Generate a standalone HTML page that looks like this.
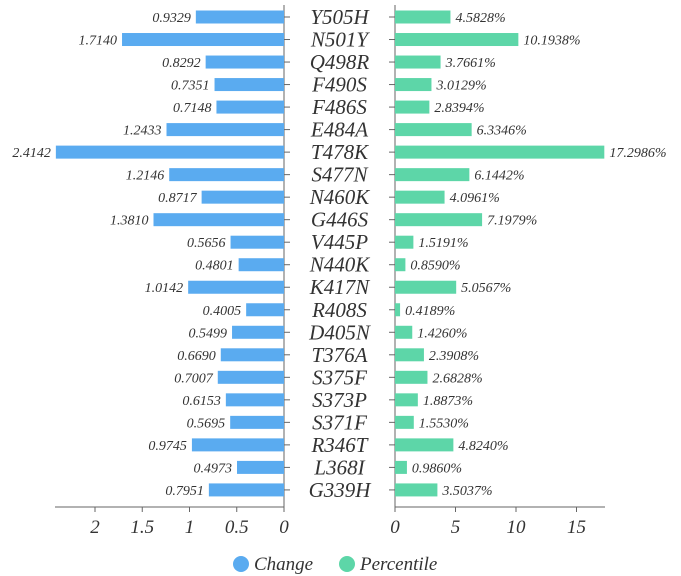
<!DOCTYPE html>
<html><head><meta charset="utf-8"><style>
body{margin:0;background:#fff;}
svg{display:block;}
svg text{font-family:"Liberation Serif",serif;font-style:italic;}
</style></head><body>
<svg id="chart" width="681" height="576" viewBox="0 0 681 576"></svg>
<script>
const categories=["Y505H","N501Y","Q498R","F490S","F486S","E484A","T478K","S477N","N460K","G446S","V445P","N440K","K417N","R408S","D405N","T376A","S375F","S373P","S371F","R346T","L368I","G339H"];
const changeValues=[0.9329,1.7140,0.8292,0.7351,0.7148,1.2433,2.4142,1.2146,0.8717,1.3810,0.5656,0.4801,1.0142,0.4005,0.5499,0.6690,0.7007,0.6153,0.5695,0.9745,0.4973,0.7951];
const percentileValues=[4.5828,10.1938,3.7661,3.0129,2.8394,6.3346,17.2986,6.1442,4.0961,7.1979,1.5191,0.8590,5.0567,0.4189,1.4260,2.3908,2.6828,1.8873,1.5530,4.8240,0.9860,3.5037];
const leftTicks=[0,0.5,1,1.5,2];
const rightTicks=[0,5,10,15];
const NS="http://www.w3.org/2000/svg";
const svg=document.getElementById('chart');
function el(t,a,txt){const e=document.createElementNS(NS,t);for(const k in a)e.setAttribute(k,a[k]);if(txt!==undefined){e.textContent=txt;e.setAttribute('font-style','italic');e.setAttribute('font-family','Liberation Serif, serif');}svg.appendChild(e);return e;}
const xL=v=>284-v*94.5, xR=v=>395+v*12.1;
const yC=i=>17+i*22.52;
const axisY=507, BH=13;
let a=el('line',{x1:55,y1:axisY,x2:284,y2:axisY,stroke:'#666'});

a=el('line',{x1:395,y1:axisY,x2:605,y2:axisY,stroke:'#666'});

a=el('line',{x1:284,y1:5,x2:284,y2:axisY,stroke:'#666'});

a=el('line',{x1:395,y1:5,x2:395,y2:axisY,stroke:'#666'});

leftTicks.forEach(t=>{el('line',{x1:xL(t),y1:axisY,x2:xL(t),y2:axisY+5,stroke:'#666'});
 const tx=el('text',{x:xL(t),y:533,'text-anchor':'middle','font-size':19,fill:'#333'},String(t));
 });
rightTicks.forEach(t=>{el('line',{x1:xR(t),y1:axisY,x2:xR(t),y2:axisY+5,stroke:'#666'});
 const tx=el('text',{x:xR(t),y:533,'text-anchor':'middle','font-size':19,fill:'#333'},String(t));
 });
categories.forEach((c,i)=>{
 const y=yC(i);
 el('line',{x1:284,y1:y,x2:290,y2:y,stroke:'#666'});
 el('line',{x1:389,y1:y,x2:395,y2:y,stroke:'#666'});
 const lb=el('text',{x:339.5,y:y+7,'text-anchor':'middle','font-size':21,fill:'#333'},c);
 
 const v=changeValues[i];
 const b=el('rect',{x:xL(v),y:y-BH/2,width:284-xL(v),height:BH,fill:'#5aabf0'});
 
 const t=el('text',{x:xL(v)-5,y:y+5,'text-anchor':'end','font-size':14,fill:'#333'},v.toFixed(4));
 
 const p=percentileValues[i];
 const b2=el('rect',{x:395,y:y-BH/2,width:xR(p)-395,height:BH,fill:'#5dd6a8'});
 
 const t2=el('text',{x:xR(p)+5,y:y+5,'font-size':14,fill:'#333'},p.toFixed(4)+'%');
 
});
let g=el('circle',{cx:241,cy:564,r:8,fill:'#5aabf0'});

g=el('text',{x:254,y:570,'font-size':19,fill:'#333'},'Change');

g=el('circle',{cx:347,cy:564,r:8,fill:'#5dd6a8'});

g=el('text',{x:360,y:570,'font-size':19,fill:'#333'},'Percentile');

</script>
</body></html>
